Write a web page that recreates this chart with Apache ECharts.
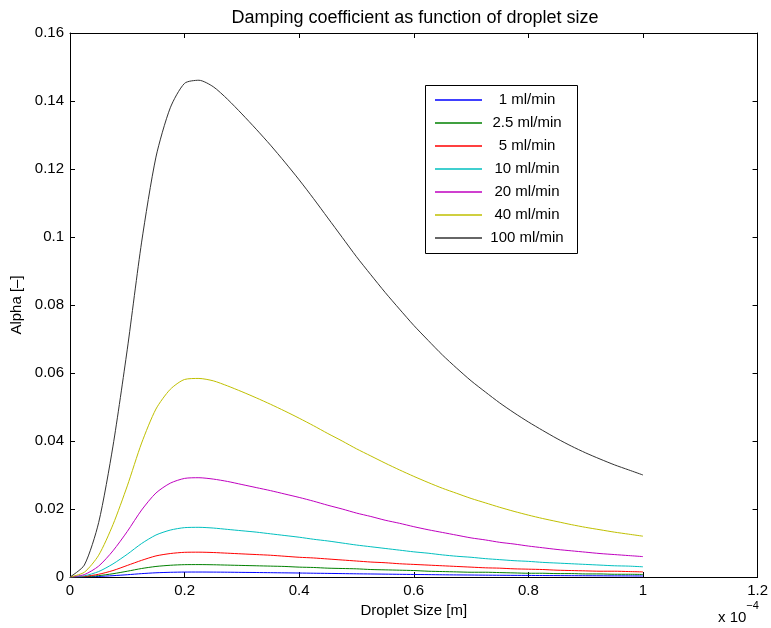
<!DOCTYPE html>
<html>
<head>
<meta charset="utf-8">
<script src="https://cdn.jsdelivr.net/npm/echarts@6/dist/echarts.min.js"></script>
<style>
  html, body { margin: 0; padding: 0; background: #fff; }
  #main { width: 771px; height: 628px; }
</style>
</head>
<body>
<div id="main"></div>
<script>
// droplet size, in units of 1e-4 m (0 .. 1 in steps of 0.025)
var dropletSize = [0, 0.025, 0.05, 0.075, 0.1, 0.125, 0.15, 0.175, 0.2, 0.225,
  0.25, 0.275, 0.3, 0.325, 0.35, 0.375, 0.4, 0.425, 0.45, 0.475,
  0.5, 0.525, 0.55, 0.575, 0.6, 0.625, 0.65, 0.675, 0.7, 0.725,
  0.75, 0.775, 0.8, 0.825, 0.85, 0.875, 0.9, 0.925, 0.95, 0.975, 1.0];

var flow1 = [0, 0.00004, 0.00016, 0.00039, 0.00067, 0.00099, 0.00124, 0.00138, 0.00145, 0.00146,
  0.00144, 0.00141, 0.00136, 0.00132, 0.00127, 0.00122, 0.00117, 0.00111, 0.00106, 0.001,
  0.00094, 0.00089, 0.00084, 0.00079, 0.00074, 0.0007, 0.00065, 0.00061, 0.00058, 0.00054,
  0.00051, 0.00048, 0.00046, 0.00043, 0.00041, 0.00039, 0.00037, 0.00035, 0.00033, 0.00032, 0.0003];
var flow2_5 = [0, 0.00009, 0.0004, 0.00096, 0.0017, 0.0025, 0.0031, 0.00345, 0.00363, 0.00365,
  0.0036, 0.0035, 0.0034, 0.0033, 0.0032, 0.0031, 0.0029, 0.0028, 0.0026, 0.0025,
  0.0024, 0.0022, 0.0021, 0.0020, 0.0019, 0.0017, 0.0016, 0.0015, 0.0014, 0.0014,
  0.0013, 0.0012, 0.0011, 0.0011, 0.0010, 0.0010, 0.0009, 0.0009, 0.0008, 0.0008, 0.00075];
var flow5 = [0, 0.00018, 0.0008, 0.0019, 0.0034, 0.0049, 0.0062, 0.0069, 0.00726, 0.0073,
  0.0072, 0.0070, 0.0068, 0.0066, 0.0064, 0.0061, 0.0058, 0.0056, 0.0053, 0.0050,
  0.0047, 0.0044, 0.0042, 0.0039, 0.0037, 0.0035, 0.0033, 0.0031, 0.0029, 0.0027,
  0.0026, 0.0024, 0.0023, 0.0022, 0.0020, 0.0019, 0.0018, 0.0017, 0.0017, 0.0016, 0.0015];
var flow10 = [0, 0.00035, 0.0016, 0.00385, 0.0067, 0.00985, 0.01235, 0.0138, 0.01452, 0.01461,
  0.0144, 0.0140, 0.0136, 0.0132, 0.0127, 0.0122, 0.0117, 0.0111, 0.0106, 0.0100,
  0.0094, 0.0089, 0.0084, 0.0079, 0.0074, 0.0070, 0.0065, 0.0061, 0.0058, 0.0054,
  0.0051, 0.0048, 0.0046, 0.0043, 0.0041, 0.0039, 0.0037, 0.0035, 0.0033, 0.0032, 0.0030];
var flow20 = [0, 0.0007, 0.0032, 0.0077, 0.0134, 0.0197, 0.0247, 0.0276, 0.0290, 0.0292,
  0.0288, 0.0281, 0.0272, 0.0263, 0.0254, 0.0244, 0.0234, 0.0223, 0.0211, 0.0200,
  0.0188, 0.0178, 0.0167, 0.0158, 0.0148, 0.0139, 0.0131, 0.0123, 0.0115, 0.0109,
  0.0102, 0.0097, 0.0091, 0.0086, 0.0081, 0.0077, 0.0073, 0.0069, 0.0066, 0.0063, 0.0060];
var flow40 = [0, 0.0014, 0.0064, 0.0154, 0.0268, 0.0394, 0.0494, 0.0552, 0.0581, 0.0584,
  0.0577, 0.0562, 0.0545, 0.0527, 0.0508, 0.0488, 0.0467, 0.0445, 0.0422, 0.0400,
  0.0377, 0.0356, 0.0335, 0.0315, 0.0296, 0.0278, 0.0261, 0.0246, 0.0231, 0.0218,
  0.0205, 0.0193, 0.0182, 0.0172, 0.0163, 0.0154, 0.0146, 0.0139, 0.0132, 0.0126, 0.0120];
var flow100 = [0, 0.0035, 0.0160, 0.0385, 0.0670, 0.0985, 0.1235, 0.1380, 0.1452, 0.1461,
  0.1442, 0.1405, 0.1362, 0.1317, 0.1270, 0.1220, 0.1168, 0.1113, 0.1056, 0.0999,
  0.0942, 0.0889, 0.0837, 0.0788, 0.0740, 0.0696, 0.0653, 0.0614, 0.0577, 0.0544,
  0.0512, 0.0483, 0.0456, 0.0431, 0.0407, 0.0385, 0.0365, 0.0347, 0.0330, 0.0315, 0.0300];

var seriesNames = ['1 ml/min', '2.5 ml/min', '5 ml/min', '10 ml/min', '20 ml/min', '40 ml/min', '100 ml/min'];
var seriesValues = [flow1, flow2_5, flow5, flow10, flow20, flow40, flow100];
var colors = ['#0000ff', '#008000', '#ff0000', '#00bfbf', '#bf00bf', '#bfbf00', '#333333'];

var font = 'Liberation Sans, Arial, Helvetica, sans-serif';

var myChart = echarts.init(document.getElementById('main'));

function pairs(vals) {
  return dropletSize.map(function (x, i) { return [x, vals[i]]; });
}

var series = seriesNames.map(function (name, i) {
  return {
    name: name,
    type: 'line',
    data: pairs(seriesValues[i]),
    symbol: 'none',
    smooth: 0.25,
    lineStyle: { color: colors[i], width: 1 },
    itemStyle: { color: colors[i] }
  };
});

// MATLAB-style legend box drawn as graphics
var legendGraphics = [{
  type: 'rect',
  shape: { x: 425.5, y: 85.5, width: 152, height: 168 },
  style: { fill: '#fff', stroke: '#000', lineWidth: 1 },
  z: 10
}];
seriesNames.forEach(function (name, i) {
  var y = 100 + 23 * i;
  legendGraphics.push({
    type: 'line',
    shape: { x1: 435, y1: y, x2: 482, y2: y },
    style: { stroke: colors[i], lineWidth: 1.3 },
    z: 11
  });
  legendGraphics.push({
    type: 'text',
    x: 527,
    y: y,
    style: {
      text: name, fontFamily: font, fontSize: 15, fill: '#000',
      textAlign: 'center', textVerticalAlign: 'middle'
    },
    z: 11
  });
});

var axisLineStyle = { show: true, onZero: false, lineStyle: { color: '#000', width: 1 } };
var tickStyle = { show: true, inside: true, length: 5, lineStyle: { color: '#000' } };

var option = {
  animation: false,
  backgroundColor: '#fff',
  color: colors,
  title: {
    text: 'Damping coefficient as function of droplet size',
    left: 410,
    top: 4,
    textAlign: 'center',
    textStyle: { fontFamily: font, fontSize: 18, fontWeight: 'normal', color: '#000' }
  },
  legend: { show: false, data: seriesNames },
  grid: { left: 70, right: 11, top: 33, bottom: 51 },
  xAxis: [
    {
      type: 'value',
      min: 0, max: 1.2, interval: 0.2,
      name: 'Droplet Size [m]',
      nameLocation: 'middle',
      nameGap: 21,
      nameTextStyle: { fontFamily: font, fontSize: 15, color: '#000' },
      axisLine: axisLineStyle,
      axisTick: tickStyle,
      axisLabel: { fontFamily: font, fontSize: 15, color: '#000', margin: 6 },
      splitLine: { show: false }
    },
    {
      type: 'value',
      position: 'top',
      min: 0, max: 1.2, interval: 0.2,
      axisLine: axisLineStyle,
      axisTick: tickStyle,
      axisLabel: { show: false },
      splitLine: { show: false }
    }
  ],
  yAxis: [
    {
      type: 'value',
      min: 0, max: 0.16, interval: 0.02,
      name: 'Alpha [–]',
      nameLocation: 'middle',
      nameGap: 41,
      nameTextStyle: { fontFamily: font, fontSize: 15, color: '#000' },
      axisLine: axisLineStyle,
      axisTick: tickStyle,
      axisLabel: { fontFamily: font, fontSize: 15, color: '#000', margin: 6 },
      splitLine: { show: false }
    },
    {
      type: 'value',
      position: 'right',
      min: 0, max: 0.16, interval: 0.02,
      axisLine: axisLineStyle,
      axisTick: tickStyle,
      axisLabel: { show: false },
      splitLine: { show: false }
    }
  ],
  graphic: legendGraphics.concat([
    {
      type: 'text',
      left: 718,
      top: 600,
      style: {
        text: '{a|x 10}{b|−4}',
        rich: {
          a: { fontFamily: font, fontSize: 15, color: '#000', padding: [10, 0, 0, 0] },
          b: { fontFamily: font, fontSize: 11, color: '#000', verticalAlign: 'top' }
        }
      }
    }
  ]),
  series: series
};

myChart.setOption(option);
</script>
</body>
</html>
